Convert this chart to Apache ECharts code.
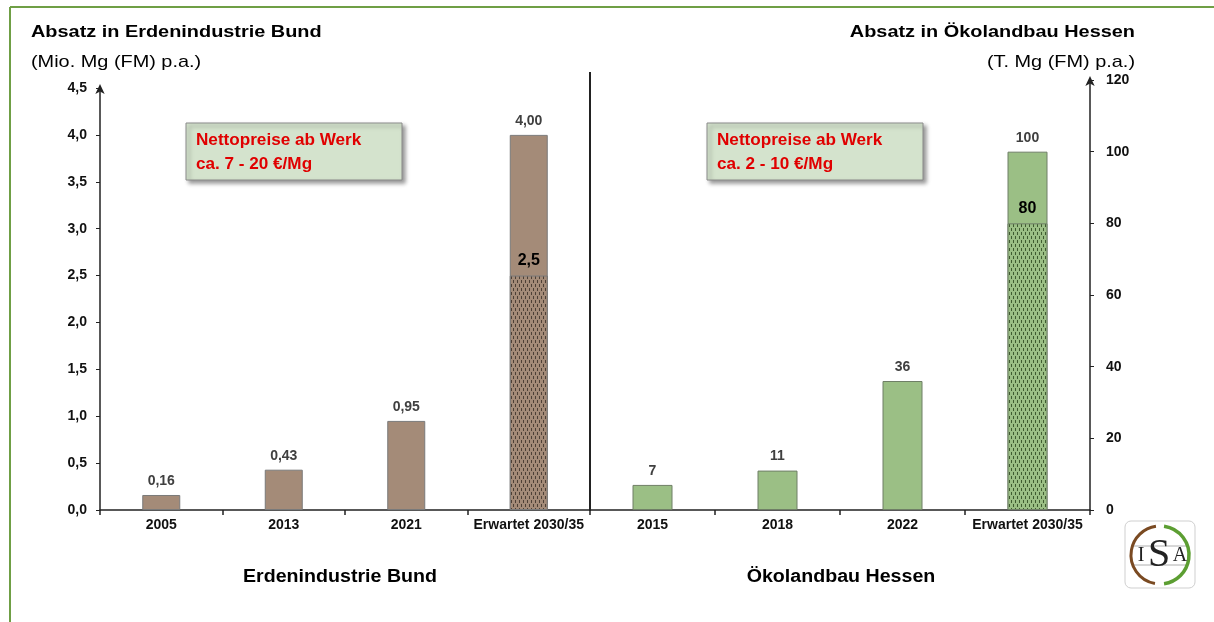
<!DOCTYPE html>
<html>
<head>
<meta charset="utf-8">
<script src="https://cdn.jsdelivr.net/npm/echarts@6/dist/echarts.min.js"></script>
<style>
  html, body { margin: 0; padding: 0; background: #fff; }
  #main { width: 1214px; height: 622px; }
</style>
</head>
<body>
<div id="main"></div>
<script>
let log = console.log.bind(console)

// Daten Erdenindustrie Bund (Mio. Mg)
const catsBund = ['2005', '2013', '2021', 'Erwartet 2030/35']
const absatzBund = [0.16, 0.43, 0.95, 4.00]
const sicherBund = [null, null, null, 2.5]

// Daten Ökolandbau Hessen (T. Mg)
const catsHessen = ['2015', '2018', '2022', 'Erwartet 2030/35']
const absatzHessen = [7, 11, 36, 100]
const sicherHessen = [null, null, null, 80]

// Achsen
const achseBund = { min: 0, max: 4.5, step: 0.5 }
const achseHessen = { min: 0, max: 120, step: 20 }

const font = 'Liberation Sans, Arial, sans-serif'
const braun = '#a48b78'
const gruen = '#9bbf85'

// kleines Muster mit Strichen für den erwarteten Anteil
let muster = function(base, dash) {
    let c = document.createElement('canvas')
    c.width = 4
    c.height = 8
    let ctx = c.getContext('2d')
    ctx.fillStyle = base
    ctx.fillRect(0, 0, 4, 8)
    ctx.fillStyle = dash
    ctx.fillRect(1, 0, 1, 3)
    ctx.fillRect(3, 4, 1, 3)
    return { image: c, repeat: 'repeat' }
}

let komma = function(v, d) {
    return v.toFixed(d).replace('.', ',')
}

let myChart = echarts.init(document.getElementById('main'))

let xAchse = function(cats, idx) {
    return {
        type: 'category',
        gridIndex: idx,
        data: cats,
        axisLine: { lineStyle: { color: '#222', width: 1.5 } },
        axisTick: { show: true, length: 5, lineStyle: { color: '#222', width: 1.5 } },
        axisLabel: { interval: 0, color: '#111', fontWeight: 'bold', fontSize: 14, fontFamily: font, margin: 8 }
    }
}

let yAchse = function(a, idx, pos, rand, fmt) {
    return {
        type: 'value',
        gridIndex: idx,
        position: pos,
        min: a.min,
        max: a.max,
        interval: a.step,
        splitLine: { show: false },
        axisLine: {
            show: true,
            symbol: ['none', 'arrow'],
            symbolSize: [7, 10],
            symbolOffset: [0, 4],
            lineStyle: { color: '#222', width: 1.5 }
        },
        axisTick: { show: true, length: 4, lineStyle: { color: '#222', width: 1 } },
        axisLabel: {
            color: '#111', fontWeight: 'bold', fontSize: 14, fontFamily: font, margin: rand,
            formatter: fmt
        }
    }
}

// Text mit horizontaler Streckung wie im Original
let text = function(x, y, s, f, align, sx) {
    return {
        type: 'text', x: x, y: y, scaleX: sx || 1.17,
        style: { text: s, fill: '#000', font: f, textAlign: align || 'left', textVerticalAlign: 'middle' }
    }
}

let box = function(x, lines) {
    let a = text(x + 10, 141, lines[0], 'bold 16px ' + font, 'left', 1.07)
    let b = text(x + 10, 165, lines[1], 'bold 16px ' + font, 'left', 1.07)
    a.style.fill = '#e00000'
    b.style.fill = '#e00000'
    return [
        {
            type: 'rect',
            shape: { x: x, y: 123, width: 216, height: 57 },
            style: {
                fill: '#d4e3cd', stroke: '#8a8a8a', lineWidth: 1,
                shadowBlur: 4, shadowOffsetX: 3, shadowOffsetY: 3, shadowColor: 'rgba(0,0,0,0.4)'
            }
        },
        a,
        b
    ]
}

let logo = [
    {
        type: 'rect',
        shape: { x: 1125, y: 521, width: 70, height: 67, r: 6 },
        style: { fill: '#fff', stroke: '#cfcfcf', lineWidth: 1 }
    },
    { type: 'line', shape: { x1: 1133, y1: 546, x2: 1188, y2: 546 }, style: { stroke: '#999', lineWidth: 0.8 } },
    { type: 'line', shape: { x1: 1133, y1: 565, x2: 1188, y2: 565 }, style: { stroke: '#999', lineWidth: 0.8 } },
    {
        type: 'arc',
        shape: { cx: 1160, cy: 555, r: 29, startAngle: Math.PI * 100 / 180, endAngle: Math.PI * 262 / 180 },
        style: { stroke: '#7a4a22', lineWidth: 3, fill: null }
    },
    {
        type: 'arc',
        shape: { cx: 1160, cy: 555, r: 29, startAngle: -Math.PI * 82 / 180, endAngle: Math.PI * 82 / 180 },
        style: { stroke: '#5c9e32', lineWidth: 3.5, fill: null }
    },
    {
        type: 'text', x: 1141, y: 556,
        style: { text: 'I', fill: '#222', font: '20px Liberation Serif, serif', textAlign: 'center', textVerticalAlign: 'middle' }
    },
    {
        type: 'text', x: 1159, y: 555,
        style: { text: 'S', fill: '#222', font: '40px Liberation Serif, serif', textAlign: 'center', textVerticalAlign: 'middle' }
    },
    {
        type: 'text', x: 1180, y: 556,
        style: { text: 'A', fill: '#222', font: '20px Liberation Serif, serif', textAlign: 'center', textVerticalAlign: 'middle' }
    }
]

let texte = [
    // grüner Rahmen
    { type: 'line', shape: { x1: 10, y1: 7, x2: 1214, y2: 7 }, style: { stroke: '#6f9f45', lineWidth: 2 } },
    { type: 'line', shape: { x1: 10, y1: 7, x2: 10, y2: 622 }, style: { stroke: '#6f9f45', lineWidth: 2 } },
    // Trennlinie
    { type: 'line', shape: { x1: 590, y1: 72, x2: 590, y2: 511 }, style: { stroke: '#222', lineWidth: 2 } },
    text(31, 32, 'Absatz in Erdenindustrie Bund', 'bold 17px ' + font),
    text(31, 62, '(Mio. Mg (FM) p.a.)', '17px ' + font),
    text(1135, 32, 'Absatz in Ökolandbau Hessen', 'bold 17px ' + font, 'right'),
    text(1135, 62, '(T. Mg (FM) p.a.)', '17px ' + font, 'right'),
    text(340, 577, 'Erdenindustrie Bund', 'bold 18px ' + font, 'center', 1.09),
    text(841, 577, 'Ökolandbau Hessen', 'bold 18px ' + font, 'center', 1.09)
]
.concat(box(186, ['Nettopreise ab Werk', 'ca. 7 - 20 €/Mg']))
.concat(box(707, ['Nettopreise ab Werk', 'ca. 2 - 10 €/Mg']))
.concat(logo)

let obenLabel = function(fmt) {
    return {
        show: true, position: 'top', distance: 7,
        color: '#404040', fontWeight: 'bold', fontSize: 14, fontFamily: font,
        formatter: fmt
    }
}

let innenLabel = function(fmt) {
    return {
        show: true, position: 'top', distance: 7,
        color: '#000', fontWeight: 'bold', fontSize: 16, fontFamily: font,
        formatter: fmt
    }
}

let option = {
    animation: false,
    backgroundColor: '#fff',
    grid: [
        { left: 100, right: 624, top: 88, bottom: 112 },
        { left: 590, right: 124, top: 80, bottom: 112 }
    ],
    xAxis: [xAchse(catsBund, 0), xAchse(catsHessen, 1)],
    yAxis: [
        yAchse(achseBund, 0, 'left', 13, function(v) { return komma(v, 1) }),
        yAchse(achseHessen, 1, 'right', 16, function(v) { return v })
    ],
    graphic: { elements: texte },
    series: [
        {
            name: 'Bund',
            type: 'bar',
            xAxisIndex: 0, yAxisIndex: 0,
            data: absatzBund,
            barWidth: 38,
            itemStyle: { color: braun, borderColor: '#7a7a7a', borderWidth: 1 },
            label: obenLabel(function(p) { return komma(p.value, 2) })
        },
        {
            name: 'Bund erwartet',
            type: 'bar',
            xAxisIndex: 0, yAxisIndex: 0,
            data: sicherBund,
            barWidth: 38,
            barGap: '-100%',
            itemStyle: { color: muster(braun, '#4e4036'), borderColor: '#7a7a7a', borderWidth: 1 },
            label: innenLabel(function(p) { return komma(p.value, 1) })
        },
        {
            name: 'Hessen',
            type: 'bar',
            xAxisIndex: 1, yAxisIndex: 1,
            data: absatzHessen,
            barWidth: 40,
            itemStyle: { color: gruen, borderColor: '#6f7f66', borderWidth: 1 },
            label: obenLabel(function(p) { return p.value })
        },
        {
            name: 'Hessen erwartet',
            type: 'bar',
            xAxisIndex: 1, yAxisIndex: 1,
            data: sicherHessen,
            barWidth: 40,
            barGap: '-100%',
            itemStyle: { color: muster(gruen, '#3f5c30'), borderColor: '#6f7f66', borderWidth: 1 },
            label: innenLabel(function(p) { return p.value })
        }
    ]
}

myChart.setOption(option)
</script>
</body>
</html>
